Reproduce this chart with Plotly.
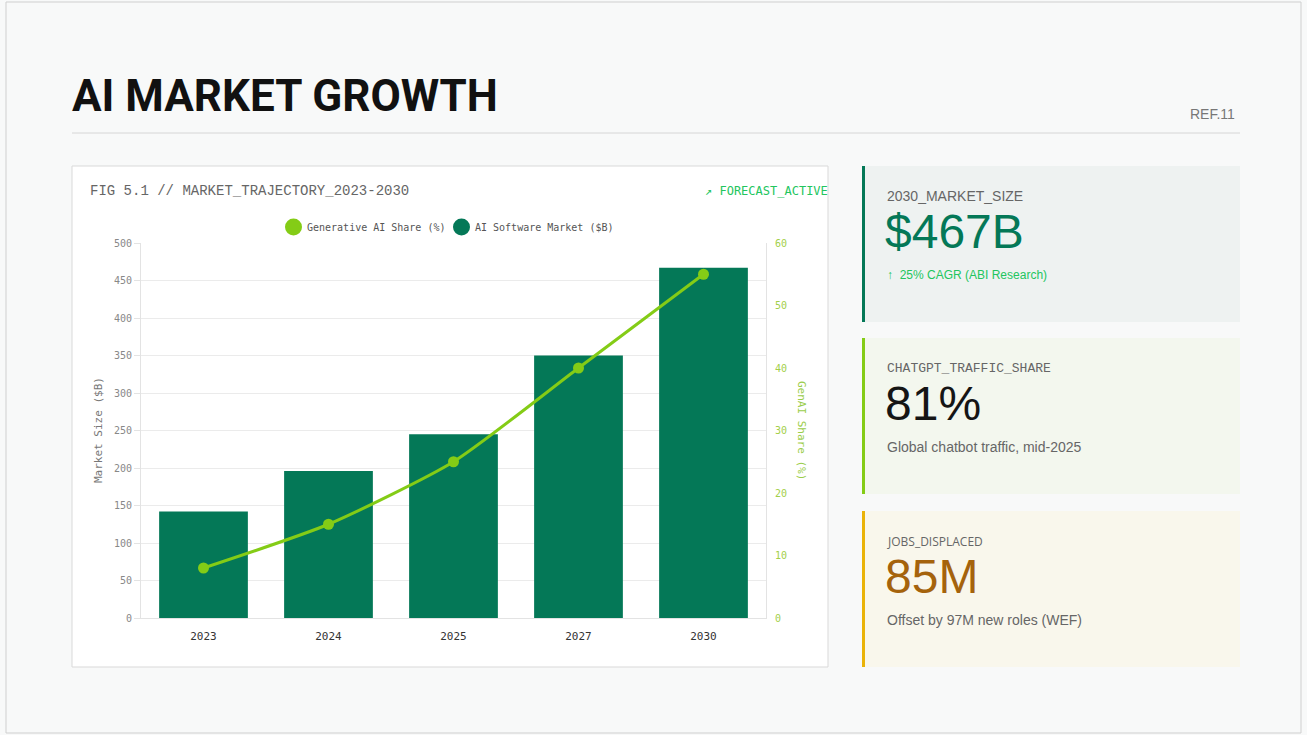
import plotly.graph_objects as go

# chart data
years = ["2023", "2024", "2025", "2027", "2030"]
market_size = [142, 196, 245, 350, 467]   # AI Software Market ($B)
genai_share = [8, 15, 25, 40, 55]         # Generative AI Share (%)
left_ticks = [0, 50, 100, 150, 200, 250, 300, 350, 400, 450, 500]
right_ticks = [0, 10, 20, 30, 40, 50, 60]
series_names = ["Generative AI Share (%)", "AI Software Market ($B)"]

# stat cards
card_labels = ["2030_MARKET_SIZE", "CHATGPT_TRAFFIC_SHARE", "JOBS_DISPLACED"]
card_values = ["$467B", "81%", "85M"]
card_notes = ["↑  25% CAGR (ABI Research)", "Global chatbot traffic, mid-2025", "Offset by 97M new roles (WEF)"]

W, H = 1307, 735
BAR = "#047857"
LIME = "#84cc16"
MONO = "DejaVu Sans Mono"
COURIER = "Liberation Mono"
SANS = "Liberation Sans"


def px(x):
    return x / W


def py(y):
    return 1 - y / H


fig = go.Figure()
fig.add_trace(go.Bar(x=years, y=market_size, marker=dict(color=BAR, line=dict(width=0)),
                     name=series_names[1], showlegend=False))
fig.add_trace(go.Scatter(x=years, y=genai_share, yaxis="y2", mode="lines+markers",
                         line=dict(color=LIME, width=3, shape="spline", smoothing=0.6),
                         marker=dict(size=11, color=LIME),
                         name=series_names[0], showlegend=False))

shapes = [
    # page frame
    dict(type="rect", xref="paper", yref="paper", x0=px(6), x1=px(1301), y0=py(733), y1=py(2),
         line=dict(color="#cfcfcf", width=1), layer="below"),
    # header rule
    dict(type="line", xref="paper", yref="paper", x0=px(72), x1=px(1240), y0=py(133), y1=py(133),
         line=dict(color="#d6d6d6", width=1)),
    # chart card
    dict(type="rect", xref="paper", yref="paper", x0=px(72), x1=px(828), y0=py(667), y1=py(166),
         fillcolor="white", line=dict(color="#d9d9d9", width=1), layer="below"),
]

card_tops = [166, 338, 511]
card_bgs = ["#eef2f1", "#f3f7ee", "#f9f7ec"]
card_edges = [BAR, LIME, "#eab308"]
for top, bg, edge in zip(card_tops, card_bgs, card_edges):
    shapes.append(dict(type="rect", xref="paper", yref="paper", x0=px(862), x1=px(1240),
                       y0=py(top + 156), y1=py(top), fillcolor=bg, line=dict(width=0), layer="below"))
    shapes.append(dict(type="rect", xref="paper", yref="paper", x0=px(862), x1=px(865),
                       y0=py(top + 156), y1=py(top), fillcolor=edge, line=dict(width=0), layer="below"))

annotations = [
    dict(text="<b>AI MARKET GROWTH</b>", x=px(70), y=py(96), xanchor="left", yanchor="middle",
         font=dict(family="Roboto", size=44, color="#111111")),
    dict(text="REF.11", x=px(1237), y=py(114), xanchor="right", yanchor="middle",
         font=dict(family=SANS, size=14, color="#777777")),
    dict(text="FIG 5.1 // MARKET_TRAJECTORY_2023-2030", x=px(88), y=py(191), xanchor="left",
         yanchor="middle", font=dict(family=COURIER, size=14, color="#666666")),
    dict(text="↗ FORECAST_ACTIVE", x=px(703), y=py(191), xanchor="left", yanchor="middle",
         font=dict(family=MONO, size=12, color="#22c55e")),
    dict(text="Market Size ($B)", x=px(98), y=py(430), textangle=-90, xanchor="center",
         yanchor="middle", font=dict(family=MONO, size=11, color="#777777")),
    dict(text="GenAI Share (%)", x=px(802), y=py(430), textangle=90, xanchor="center",
         yanchor="middle", font=dict(family=MONO, size=11, color="#9acd4a")),
]

# legend: circle swatches + labels, laid out like the original
legend_x = [285, 453]
for lx, name, col in zip(legend_x, series_names, [LIME, BAR]):
    shapes.append(dict(type="circle", xref="paper", yref="paper", x0=px(lx), x1=px(lx + 17),
                       y0=py(235.5), y1=py(218.5), fillcolor=col, line=dict(width=0)))
    annotations.append(dict(text=name, x=px(lx + 20), y=py(227), xanchor="left", yanchor="middle",
                            font=dict(family=MONO, size=10, color="#555555")))

label_fonts = [dict(family=SANS, size=14, color="#666666"),
               dict(family=COURIER, size=13, color="#666666"),
               dict(family="Open Sans", size=12, color="#666666")]
value_colors = [BAR, "#151515", "#a5630c"]
note_fonts = [dict(family=SANS, size=12, color="#22c55e"),
              dict(family=SANS, size=14, color="#666666"),
              dict(family=SANS, size=14, color="#666666")]
for i, top in enumerate(card_tops):
    annotations.append(dict(text=card_labels[i], x=px(885), y=py(top + 30), xanchor="left",
                            yanchor="middle", font=label_fonts[i]))
    annotations.append(dict(text=card_values[i], x=px(883), y=py(top + 65), xanchor="left",
                            yanchor="middle", font=dict(family=SANS, size=48, color=value_colors[i])))
    annotations.append(dict(text=card_notes[i], x=px(885), y=py(top + 109), xanchor="left",
                            yanchor="middle", font=note_fonts[i]))
for a in annotations:
    a.update(xref="paper", yref="paper", showarrow=False)

fig.update_layout(
    width=W, height=H,
    margin=dict(l=0, r=0, t=0, b=0, autoexpand=False),
    paper_bgcolor="#f8f9f9",
    plot_bgcolor="white",
    bargap=0.29,
    showlegend=False,
    shapes=shapes,
    annotations=annotations,
    xaxis=dict(domain=[px(141), px(766)], showline=True, linecolor="#e3e3e3", showgrid=False,
               ticks="outside", ticklen=8, tickcolor="rgba(0,0,0,0)",
               tickfont=dict(family=MONO, size=11, color="#333333")),
    yaxis=dict(domain=[py(618), py(243)], range=[0, 500], tickvals=left_ticks,
               showline=True, linecolor="#e3e3e3", gridcolor="#ebebeb", zeroline=False,
               ticks="outside", ticklen=6, tickcolor="#e3e3e3",
               tickfont=dict(family=MONO, size=10, color="#888888")),
    yaxis2=dict(overlaying="y", side="right", range=[0, 60], tickvals=right_ticks,
                showline=True, linecolor="#e3e3e3", showgrid=False, zeroline=False,
                ticks="outside", ticklen=6, tickcolor="rgba(0,0,0,0)",
                tickfont=dict(family=MONO, size=10, color="#a3cf4a")),
)

fig.write_html("out.html", config={"displayModeBar": False},
               post_script="document.body.style.margin='0';")
